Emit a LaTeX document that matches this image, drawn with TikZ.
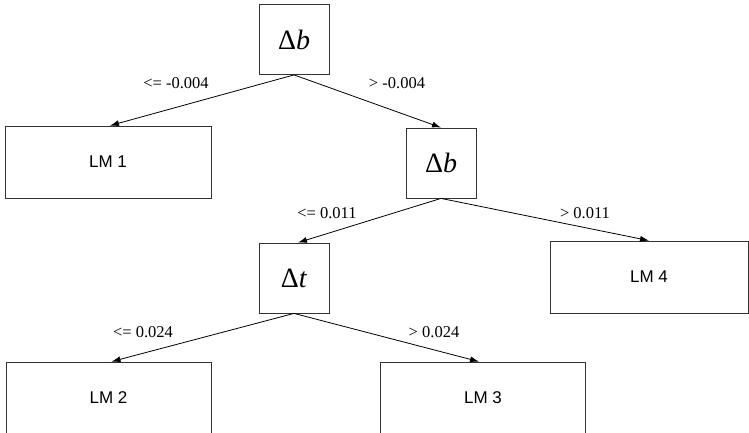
\documentclass[tikz,border=0pt]{standalone}
\usepackage{fontspec}
\setmainfont{Liberation Serif}
\newfontfamily\lmsans{Liberation Sans}
\usetikzlibrary{arrows.meta}
\begin{document}
\begin{tikzpicture}[x=1pt,y=-1pt,
  split/.style={draw=black!80,line width=0.8pt,minimum width=70pt,minimum height=70pt,inner sep=0pt,font=\fontsize{28}{30}\selectfont},
  leaf/.style={draw=black!80,line width=0.8pt,minimum width=206pt,minimum height=72pt,inner sep=0pt,font=\lmsans\fontsize{17}{20}\selectfont},
  cond/.style={inner sep=1pt,font=\fontsize{16.5}{19}\selectfont},
  branch/.style={draw=black,line width=0.8pt,-{Latex[length=9pt,width=6pt]}}]
\useasboundingbox (0,0) rectangle (749,433);
\node[split] (top) at (294,39.5) {Δ\textit{b}};
\node[leaf] (lm1) at (108,162) {LM 1};
\node[split] (b2) at (441,163) {Δ\textit{b}};
\node[split] (dt) at (294,278) {Δ\textit{t}};
\node[leaf,minimum width=198pt] (lm4) at (649,277) {LM 4};
\node[leaf,minimum width=205pt] (lm2) at (108.5,398) {LM 2};
\node[leaf,minimum width=205pt] (lm3) at (483,398) {LM 3};
\draw[branch] (top.south) -- ([xshift=2pt]lm1.north);
\draw[branch] (top.south) -- (b2.north);
\draw[branch] (b2.south) -- ([xshift=4pt]dt.north);
\draw[branch] (b2.south) -- (lm4.north);
\draw[branch] (dt.south) -- ([xshift=3pt]lm2.north);
\draw[branch] (dt.south) -- ([xshift=-4pt]lm3.north);
\node[cond] (c1) at (176,83) {<= -0.004};
\node[cond] (c2) at (397,83) {> -0.004};
\node[cond] (c3) at (327,213) {<= 0.011};
\node[cond] (c4) at (585,213) {> 0.011};
\node[cond] (c5) at (143,332) {<= 0.024};
\node[cond] (c6) at (434,332) {> 0.024};
\end{tikzpicture}
\end{document}
